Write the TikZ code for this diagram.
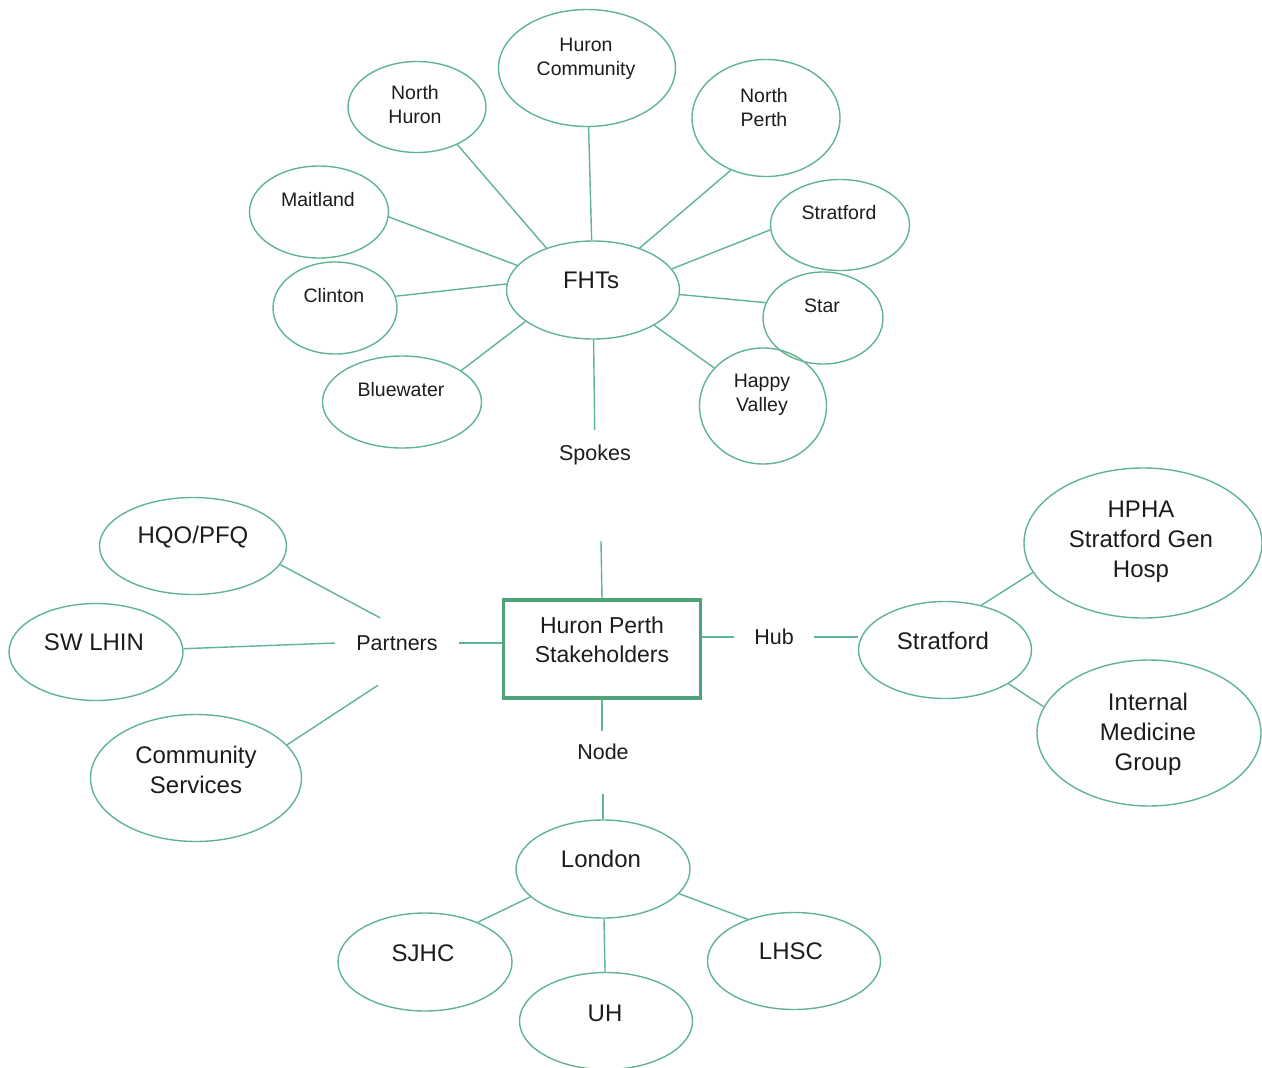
\documentclass[tikz,border=0pt]{standalone}
\usepackage{fontspec}
\setmainfont{Liberation Sans}
\usetikzlibrary{shapes.geometric}
\definecolor{edgegreen}{RGB}{95,180,145}
\definecolor{boxgreen}{RGB}{78,163,123}
\definecolor{txtgray}{RGB}{28,28,28}
\tikzset{
  ell/.style={ellipse, draw=edgegreen, line width=1.4pt, inner sep=0pt},
  conn/.style={draw=edgegreen, line width=1.4pt},
  smalltxt/.style={text=txtgray, align=center, inner sep=0pt, font=\fontsize{19.5}{24}\selectfont},
  bigtxt/.style={text=txtgray, align=center, inner sep=0pt, font=\fontsize{24}{30}\selectfont},
  midtxt/.style={text=txtgray, align=center, inner sep=0pt, font=\fontsize{21.5}{26}\selectfont},
}
\begin{document}
\begin{tikzpicture}[x=1pt,y=-1pt]
\useasboundingbox (0,0) rectangle (1262,1068);

% ---------- top cluster ----------
\node[ell, minimum width=173, minimum height=98] (fht) at (593,290) {};
\node[bigtxt] (fht-t) at (591,280) {FHTs};

\node[ell, minimum width=177, minimum height=117] (hc) at (587,68) {};
\node[smalltxt] (hc-t) at (586,59) {Huron\\Community};
\node[ell, minimum width=138, minimum height=91] (nh) at (417,107) {};
\node[smalltxt] (nh-t) at (415,105) {North\\Huron};
\node[ell, minimum width=148, minimum height=117] (np) at (766,118) {};
\node[smalltxt] (np-t) at (764,108) {North\\Perth};
\node[ell, minimum width=139, minimum height=92] (mt) at (319,212) {};
\node[smalltxt] (mt-t) at (318,200) {Maitland};
\node[ell, minimum width=139, minimum height=91] (sf1) at (840,225) {};
\node[smalltxt] (sf1-t) at (839,213) {Stratford};
\node[ell, minimum width=124, minimum height=92] (cl) at (335,308) {};
\node[smalltxt] (cl-t) at (334,296) {Clinton};
\node[ell, minimum width=120, minimum height=92] (st) at (823,318) {};
\node[smalltxt] (st-t) at (822,306) {Star};
\node[ell, minimum width=159, minimum height=92] (bw) at (402,402) {};
\node[smalltxt] (bw-t) at (401,390) {Bluewater};
\node[ell, minimum width=127, minimum height=116] (hv) at (763,406) {};
\node[smalltxt] (hv-t) at (762,395) {Happy\\Valley};

\node[midtxt, inner ysep=15pt] (spokes) at (595,455) {Spokes};

\draw[conn] (hc) -- (fht);
\draw[conn] (nh.-43) -- (fht.138);
\draw[conn] (np.236) -- (fht.42);
\draw[conn] (mt.-4) -- (fht.162);
\draw[conn] (sf1.184) -- (fht.15);
\draw[conn] (cl.11) -- (fht.176);
\draw[conn] (st.165) -- (fht.-3);
\draw[conn] (bw.28) -- (fht.205);
\draw[conn] (hv.142) -- (fht.-30);
\draw[conn] (fht) -- (spokes);

% ---------- central box ----------
\node[draw=boxgreen, line width=3.5pt, minimum width=197, minimum height=98, inner sep=0pt] (box) at (602,649) {};
\node[bigtxt, font=\fontsize{23}{29}\selectfont] (box-t) at (602,640) {Huron Perth\\Stakeholders};
\coordinate (stubtop) at (601,541);
\draw[conn] (box.north) -- (stubtop);

% ---------- partners ----------
\node[midtxt, inner xsep=21pt, minimum height=50] (partners) at (397,643) {Partners};
\node[ell, minimum width=187, minimum height=97] (hqo) at (193,546) {};
\node[bigtxt] (hqo-t) at (193,537) {HQO/PFQ};
\node[ell, minimum width=174, minimum height=97] (sw) at (96,652) {};
\node[bigtxt] (sw-t) at (94,642) {SW LHIN};
\node[ell, minimum width=211, minimum height=127] (cs) at (196,778) {};
\node[bigtxt] (cs-t) at (196,770) {Community\\Services};

\draw[conn] (hqo.-12) -- ([xshift=-17pt]partners.north);
\draw[conn] (sw) -- (partners.west);
\draw[conn] (cs.20) -- ([xshift=-19pt,yshift=-17pt]partners.south);
\draw[conn] (partners.east) -- (partners.east -| box.west);

% ---------- hub ----------
\node[midtxt, inner xsep=20pt] (hub) at (774,637) {Hub};
\node[ell, minimum width=173, minimum height=97] (sf2) at (945,650) {};
\node[bigtxt] (sf2-t) at (943,641) {Stratford};
\node[ell, minimum width=238, minimum height=150] (hpha) at (1143,543) {};
\node[bigtxt] (hpha-t) at (1141,542) {HPHA\\Stratford Gen\\Hosp};
\node[ell, minimum width=224, minimum height=146] (img) at (1149,733) {};
\node[bigtxt] (img-t) at (1148,734) {Internal\\Medicine\\Group};

\draw[conn] (box.east |- hub.west) -- (hub.west);
\draw[conn] (hub.east) -- (hub.east -| sf2.west);
\draw[conn] (sf2.51) -- (hpha.195);
\draw[conn] (sf2.-28) -- (img.166);

% ---------- node ----------
\node[midtxt, inner ysep=13pt] (nodelbl) at (603,752) {Node};
\node[ell, minimum width=174, minimum height=98] (lon) at (603,869) {};
\node[bigtxt] (lon-t) at (601,859) {London};
\node[ell, minimum width=174, minimum height=98] (sjhc) at (425,962) {};
\node[bigtxt] (sjhc-t) at (423,953) {SJHC};
\node[ell, minimum width=173, minimum height=97] (uh) at (606,1021) {};
\node[bigtxt] (uh-t) at (605,1013) {UH};
\node[ell, minimum width=173, minimum height=97] (lhsc) at (794,961) {};
\node[bigtxt] (lhsc-t) at (791,951) {LHSC};

\draw[conn] (box.south) -- (box.south |- nodelbl.north);
\draw[conn] ([yshift=-21pt]nodelbl.south) -- (lon);
\draw[conn] (lon.201) -- (sjhc.37);
\draw[conn] (lon) -- (uh);
\draw[conn] (lon.-18) -- (lhsc.138);
\end{tikzpicture}
\end{document}
